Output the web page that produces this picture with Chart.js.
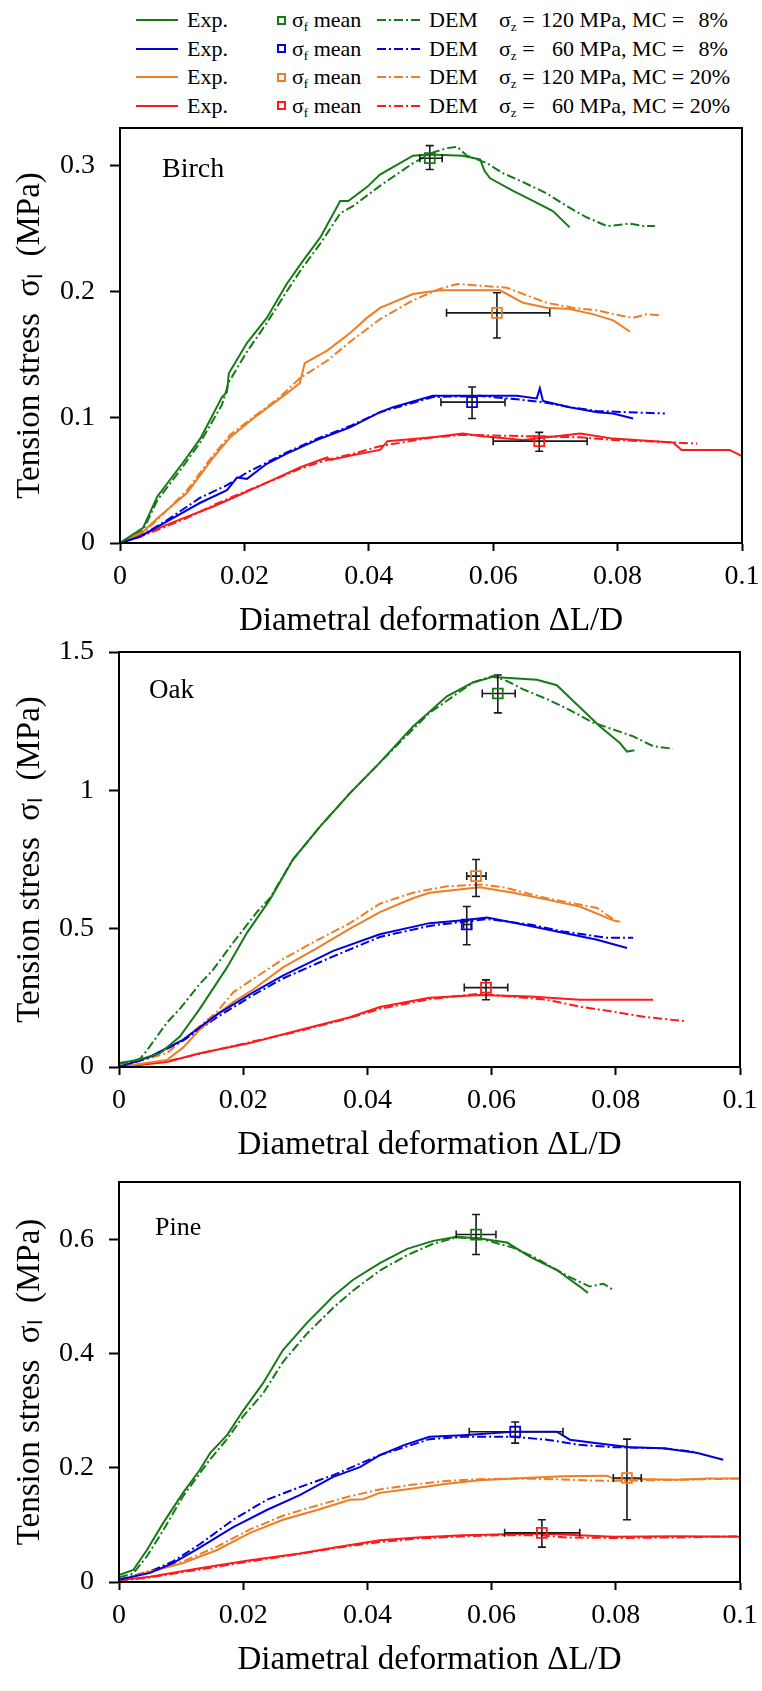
<!DOCTYPE html>
<html>
<head>
<meta charset="utf-8">
<script src="https://cdn.jsdelivr.net/npm/chart.js@4.4.0/dist/chart.umd.min.js"></script>
<style>
  body { margin: 0; background: #fff; width: 762px; height: 1691px; position: relative; overflow: hidden;
         font-family: 'Liberation Serif', 'Times New Roman', serif; color: #000; }
  canvas { position: absolute; left: 0; }
  .txt { position: absolute; white-space: nowrap; line-height: 22px; font-size: 22px; }
  .txt sub { font-size: 13px; vertical-align: -4px; line-height: 0; }
  .num { display: inline-block; text-align: right; }
  .mark { position: absolute; box-sizing: border-box; }
  .panelName { position: absolute; white-space: nowrap; }
</style>
</head>
<body>
<script>
// x ticks shared by all three panels
const xTicks = [0, 0.02, 0.04, 0.06, 0.08, 0.1];

// series order: σz=120 MC=8%, σz=60 MC=8%, σz=120 MC=20%, σz=60 MC=20%
const seriesColors = ['#167a16', '#0000e0', '#ee7d24', '#ff1a1a'];
const stressLabels = ['120', '60', '120', '60'];
const mcLabels = ['8%', '8%', '20%', '20%'];

// ---- Birch ----
const birchYTicks = [0, 0.1, 0.2, 0.3];
const birchYMax = 0.33;
const birchExp1 = [[0,0],[.0037,.012],[.006,.037],[.010,.063],[.0129,.083],[.0164,.116],[.0172,.120],[.0175,.135],[.0204,.159],[.0236,.179],[.0268,.206],[.0292,.223],[.0322,.243],[.0354,.272],[.0367,.272],[.0397,.283],[.0418,.293],[.0471,.308],[.0498,.309],[.0551,.308],[.0579,.305],[.0586,.296],[.0595,.290],[.0632,.280],[.0664,.272],[.0696,.264],[.0723,.251]];
const birchDem1 = [[0,0],[.0037,.01],[.006,.034],[.010,.06],[.0129,.08],[.0164,.11],[.0175,.128],[.0204,.152],[.0236,.175],[.0268,.2],[.0292,.218],[.0322,.238],[.0354,.262],[.0375,.268],[.0418,.284],[.0471,.302],[.050,.310],[.0526,.314],[.0542,.315],[.0558,.308],[.059,.302],[.0616,.294],[.0648,.287],[.0686,.278],[.0718,.268],[.075,.259],[.0783,.252],[.082,.254],[.0841,.252],[.086,.252]];
const birchExp2 = [[0,0],[.0032,.005],[.0075,.017],[.0129,.032],[.0172,.042],[.0188,.052],[.0204,.051],[.0236,.063],[.0268,.071],[.0317,.082],[.037,.092],[.0418,.104],[.0439,.108],[.0503,.117],[.0579,.117],[.0638,.117],[.067,.115],[.0675,.123],[.068,.113],[.0723,.108],[.0767,.104],[.0793,.103],[.0825,.099]];
const birchDem2 = [[0,0],[.0032,.005],[.0075,.018],[.0129,.036],[.0172,.046],[.0204,.056],[.0236,.064],[.0268,.072],[.0317,.083],[.037,.093],[.0418,.104],[.0503,.116],[.0579,.117],[.0643,.114],[.068,.112],[.0723,.108],[.0767,.105],[.0815,.104],[.0876,.103]];
const birchExp3 = [[0,0],[.0037,.009],[.0061,.020],[.0108,.040],[.015,.068],[.0177,.084],[.0214,.099],[.0268,.119],[.0289,.127],[.0297,.143],[.0333,.153],[.037,.167],[.0397,.179],[.0418,.187],[.0471,.198],[.0514,.201],[.0611,.201],[.0622,.198],[.0648,.191],[.0686,.187],[.0723,.186],[.076,.182],[.0793,.177],[.082,.168]];
const birchDem3 = [[0,0],[.0037,.008],[.0061,.019],[.0108,.042],[.015,.07],[.0177,.086],[.0214,.1],[.0257,.116],[.0289,.131],[.0333,.145],[.037,.16],[.0418,.178],[.0471,.193],[.0514,.202],[.0542,.206],[.0622,.203],[.0643,.199],[.0686,.191],[.0728,.187],[.0767,.185],[.0793,.182],[.0825,.179],[.0847,.182],[.0868,.181]];
const birchExp4 = [[0,0],[.0048,.009],[.0108,.021],[.015,.029],[.0182,.036],[.0236,.048],[.0289,.060],[.0333,.068],[.0338,.066],[.0375,.070],[.0418,.074],[.043,.081],[.0503,.084],[.0551,.087],[.0579,.085],[.0648,.082],[.074,.087],[.0793,.083],[.0889,.080],[.0903,.074],[.098,.074],[.1,.069]];
const birchDem4 = [[0,0],[.0048,.008],[.0108,.02],[.015,.03],[.0182,.037],[.0236,.048],[.0289,.059],[.0333,.066],[.0375,.071],[.0418,.077],[.0503,.084],[.0551,.086],[.0648,.085],[.074,.084],[.0793,.082],[.0889,.080],[.0928,.079]];
const birchMeanX = [.0498, .0566, .0606, .0674];
const birchMeanY = [.306, .112, .183, .081];
const birchErrX = [[.0482,.0518],[.0516,.0619],[.0525,.0691],[.060,.0751]];
const birchErrY = [[.297,.316],[.099,.124],[.163,.199],[.073,.088]];

// ---- Oak ----
const oakYTicks = [0, 0.5, 1, 1.5];
const oakYMax = 1.5;
const oakExp1 = [[0,.014],[.003,.025],[.0066,.05],[.0098,.11],[.013,.21],[.0174,.36],[.0206,.485],[.0243,.605],[.028,.75],[.0324,.87],[.0372,.99],[.042,1.10],[.0473,1.23],[.0528,1.34],[.057,1.39],[.0602,1.41],[.0635,1.405],[.0673,1.40],[.0705,1.38],[.0742,1.30],[.0775,1.23],[.0807,1.17],[.0818,1.14],[.083,1.145]];
const oakDem1 = [[0,.01],[.0034,.03],[.0045,.06],[.0077,.16],[.0098,.21],[.013,.30],[.0151,.35],[.0184,.45],[.0222,.56],[.0243,.61],[.028,.75],[.0324,.87],[.0372,.99],[.042,1.10],[.0473,1.22],[.05,1.28],[.057,1.39],[.0602,1.413],[.0625,1.395],[.065,1.366],[.0689,1.33],[.0726,1.29],[.0763,1.245],[.0796,1.22],[.0828,1.195],[.086,1.16],[.0892,1.15]];
const oakExp2 = [[0,0],[.005,.037],[.0103,.098],[.0158,.19],[.0216,.27],[.0264,.33],[.0345,.42],[.042,.48],[.05,.52],[.0554,.53],[.0593,.54],[.0662,.51],[.0715,.485],[.077,.46],[.0818,.43]];
const oakDem2 = [[0,0],[.005,.035],[.0103,.095],[.0158,.18],[.0216,.26],[.0264,.32],[.0345,.40],[.042,.47],[.05,.51],[.0554,.525],[.0593,.535],[.0662,.515],[.0715,.49],[.0786,.467],[.0828,.467]];
const oakExp3 = [[0,0],[.0077,.025],[.0103,.07],[.013,.135],[.0158,.19],[.0184,.235],[.0216,.28],[.0264,.36],[.0319,.43],[.0372,.50],[.042,.56],[.0473,.61],[.05,.63],[.0581,.65],[.0635,.63],[.0689,.605],[.0742,.58],[.0796,.53],[.0807,.525]];
const oakDem3 = [[0,0],[.0077,.05],[.011,.11],[.0158,.2],[.0184,.27],[.0264,.39],[.0312,.45],[.0372,.52],[.042,.59],[.0473,.63],[.0528,.653],[.0581,.66],[.0618,.65],[.0689,.61],[.077,.575],[.0802,.525]];
const oakExp4 = [[0,0],[.0077,.018],[.013,.05],[.0211,.087],[.0291,.134],[.0372,.18],[.042,.217],[.05,.25],[.0581,.26],[.0662,.255],[.0742,.243],[.0796,.243],[.086,.243]];
const oakDem4 = [[0,0],[.0077,.02],[.013,.048],[.0211,.09],[.0291,.13],[.0372,.178],[.042,.21],[.05,.245],[.0581,.265],[.0689,.243],[.0742,.218],[.0796,.2],[.085,.18],[.0914,.165]];
const oakMeanX = [.061, .056, .0575, .0591];
const oakMeanY = [1.35, .515, .69, .287];
const oakErrX = [[.0585,.0638],[.0555,.0567],[.056,.0591],[.0556,.0626]];
const oakErrY = [[1.28,1.417],[.442,.58],[.616,.75],[.243,.315]];

// ---- Pine ----
const pineYTicks = [0, 0.2, 0.4, 0.6];
const pineYMax = 0.7;
const pineExp1 = [[0,.012],[.0023,.021],[.0045,.056],[.0071,.103],[.0103,.156],[.013,.196],[.0147,.226],[.0174,.257],[.02,.30],[.0232,.348],[.0264,.406],[.0303,.454],[.0345,.50],[.0377,.529],[.042,.558],[.0464,.583],[.0506,.597],[.0544,.604],[.0581,.601],[.0625,.594],[.0662,.569],[.0705,.546],[.0742,.517],[.0755,.506]];
const pineDem1 = [[0,.008],[.0023,.015],[.0045,.045],[.0071,.09],[.0103,.15],[.013,.19],[.0147,.215],[.0174,.25],[.02,.29],[.0232,.33],[.0264,.385],[.0303,.435],[.0345,.48],[.0377,.51],[.042,.545],[.0464,.572],[.0506,.592],[.0544,.603],[.0581,.601],[.0635,.585],[.0673,.566],[.0721,.536],[.0758,.517],[.078,.522],[.0796,.511]];
const pineExp2 = [[0,.004],[.005,.016],[.0087,.033],[.013,.06],[.0184,.096],[.0238,.126],[.0291,.152],[.0345,.184],[.0388,.201],[.042,.222],[.046,.240],[.05,.254],[.0554,.257],[.0635,.263],[.0705,.263],[.0726,.249],[.077,.243],[.0823,.236],[.0876,.234],[.093,.226],[.0973,.214]];
const pineDem2 = [[0,.004],[.005,.018],[.0087,.036],[.013,.066],[.0184,.109],[.0238,.144],[.0291,.166],[.0345,.187],[.042,.222],[.05,.25],[.0554,.254],[.0635,.254],[.0689,.249],[.0742,.24],[.0796,.236],[.0876,.234],[.0925,.228]];
const pineExp3 = [[0,.003],[.005,.018],[.0103,.033],[.0158,.056],[.0211,.086],[.0264,.109],[.0319,.126],[.0372,.144],[.0393,.145],[.042,.156],[.047,.163],[.0528,.172],[.058,.178],[.0636,.181],[.0716,.185],[.0786,.186],[.0796,.181],[.085,.180],[.090,.179],[.095,.181],[.1,.181]];
const pineDem3 = [[0,.003],[.005,.02],[.0103,.036],[.0158,.062],[.0211,.092],[.0264,.116],[.0319,.134],[.0372,.150],[.042,.162],[.047,.170],[.053,.177],[.058,.18],[.064,.181],[.070,.180],[.075,.178],[.080,.177],[.085,.178],[.090,.179],[.095,.180],[.1,.181]];
const pineExp4 = [[0,.003],[.005,.009],[.013,.024],[.0211,.038],[.0291,.05],[.0345,.06],[.042,.073],[.048,.078],[.0554,.082],[.0678,.085],[.0796,.079],[.09,.080],[.1,.079]];
const pineDem4 = [[0,.002],[.005,.008],[.013,.022],[.0211,.036],[.0291,.049],[.0345,.059],[.042,.07],[.048,.076],[.0554,.08],[.062,.082],[.0678,.082],[.072,.078],[.08,.077],[.09,.078],[.1,.08]];
const pineMeanX = [.0575, .0638, .0818, .0681];
const pineMeanY = [.608, .263, .182, .086];
const pineErrX = [[.0543,.0607],[.0564,.0715],[.0796,.0841],[.0621,.0742]];
const pineErrY = [[.573,.643],[.243,.28],[.109,.25],[.061,.109]];

const serif = "'Liberation Serif', 'Times New Roman', serif";
Chart.defaults.font.family = serif;
Chart.defaults.color = '#000';

// legend (html, top of the page)
function addDiv(cls, left, top, html, css) {
  const d = document.createElement('div');
  d.className = cls;
  d.style.left = left + 'px';
  d.style.top = top + 'px';
  if (html) d.innerHTML = html;
  if (css) Object.assign(d.style, css);
  document.body.appendChild(d);
  return d;
}

seriesColors.forEach((c, i) => {
  const cy = 20 + i * 28.5;
  addDiv('mark', 136, cy - 1, '', { width: '42px', height: '2px', background: c });
  addDiv('txt', 187, cy - 11, 'Exp.');
  addDiv('mark', 277, cy - 4.5, '', { width: '9px', height: '9px', border: '2.2px solid ' + c });
  addDiv('txt', 292, cy - 11, 'σ<sub>f</sub> mean');
  addDiv('mark', 377, cy - 1, '', { width: '44px', height: '2px',
    background: `repeating-linear-gradient(to right, ${c} 0 9px, transparent 9px 12px, ${c} 12px 14px, transparent 14px 17px)` });
  addDiv('txt', 429, cy - 11, 'DEM');
  addDiv('txt', 499, cy - 11,
    `σ<sub>z</sub> = <span class="num" style="width:34px">${stressLabels[i]}</span> MPa, MC = <span class="num" style="width:38px">${mcLabels[i]}</span>`);
});

// plugins
const frame = {
  id: 'frame',
  afterDraw(chart) {
    const { ctx, chartArea: a } = chart;
    ctx.save();
    ctx.strokeStyle = '#000';
    ctx.lineWidth = 2;
    ctx.strokeRect(a.left, a.top, a.right - a.left, a.bottom - a.top);
    ctx.restore();
  }
};

const errorBars = {
  id: 'errorBars',
  beforeDatasetDraw(chart, args, opts) {
    if (args.index !== 0) return;
    const { ctx, scales: { x, y } } = chart;
    ctx.save();
    ctx.strokeStyle = '#1a1a1a';
    ctx.lineWidth = 1.6;
    opts.mx.forEach((mx, i) => {
      const px = x.getPixelForValue(mx), py = y.getPixelForValue(opts.my[i]);
      const xl = x.getPixelForValue(opts.ex[i][0]), xh = x.getPixelForValue(opts.ex[i][1]);
      const yl = y.getPixelForValue(opts.ey[i][0]), yh = y.getPixelForValue(opts.ey[i][1]);
      ctx.beginPath();
      ctx.moveTo(xl, py); ctx.lineTo(xh, py);
      ctx.moveTo(xl, py - 4); ctx.lineTo(xl, py + 4);
      ctx.moveTo(xh, py - 4); ctx.lineTo(xh, py + 4);
      ctx.moveTo(px, yl); ctx.lineTo(px, yh);
      ctx.moveTo(px - 4, yl); ctx.lineTo(px + 4, yl);
      ctx.moveTo(px - 4, yh); ctx.lineTo(px + 4, yh);
      ctx.stroke();
    });
    ctx.restore();
  }
};

const toXY = arr => arr.map(p => ({ x: p[0], y: p[1] }));

const panels = [
  { name: 'Birch', exp: [birchExp1, birchExp2, birchExp3, birchExp4], dem: [birchDem1, birchDem2, birchDem3, birchDem4],
    mx: birchMeanX, my: birchMeanY, ex: birchErrX, ey: birchErrY, yMax: birchYMax, yTicks: birchYTicks,
    top: 128, axis: 543, left: 120, right: 742, label: { x: 162, y: 154, size: 28 } },
  { name: 'Oak', exp: [oakExp1, oakExp2, oakExp3, oakExp4], dem: [oakDem1, oakDem2, oakDem3, oakDem4],
    mx: oakMeanX, my: oakMeanY, ex: oakErrX, ey: oakErrY, yMax: oakYMax, yTicks: oakYTicks,
    top: 652, axis: 1067, left: 119, right: 740, label: { x: 149, y: 676, size: 27 } },
  { name: 'Pine', exp: [pineExp1, pineExp2, pineExp3, pineExp4], dem: [pineDem1, pineDem2, pineDem3, pineDem4],
    mx: pineMeanX, my: pineMeanY, ex: pineErrX, ey: pineErrY, yMax: pineYMax, yTicks: pineYTicks,
    top: 1182, axis: 1582, left: 119, right: 740, label: { x: 155, y: 1214, size: 26 } }
];

panels.forEach(p => {
  const padTop = 20;
  const canvasTop = p.top - padTop;
  const canvas = document.createElement('canvas');
  canvas.width = 762;
  canvas.height = p.axis + 100 - canvasTop;
  canvas.style.top = canvasTop + 'px';
  document.body.appendChild(canvas);

  const datasets = [{
    data: p.mx.map((x, i) => ({ x, y: p.my[i] })),
    showLine: false,
    pointStyle: 'rect',
    pointRadius: 7,
    pointBorderWidth: 1.8,
    pointBorderColor: seriesColors,
    pointBackgroundColor: 'rgba(0,0,0,0)'
  }];
  p.exp.forEach((arr, i) => datasets.push({
    data: toXY(arr), showLine: true, pointRadius: 0, borderColor: seriesColors[i], borderWidth: 2
  }));
  p.dem.forEach((arr, i) => datasets.push({
    data: toXY(arr), showLine: true, pointRadius: 0, borderColor: seriesColors[i], borderWidth: 2,
    borderDash: [9, 3, 2, 3]
  }));

  new Chart(canvas.getContext('2d'), {
    type: 'scatter',
    data: { datasets },
    options: {
      responsive: false,
      animation: false,
      devicePixelRatio: 1,
      layout: { padding: { top: padTop, right: 762 - p.right, bottom: 0, left: 0 } },
      plugins: {
        legend: { display: false },
        tooltip: { enabled: false },
        errorBars: { mx: p.mx, my: p.my, ex: p.ex, ey: p.ey }
      },
      scales: {
        x: {
          type: 'linear', min: 0, max: 0.1,
          afterBuildTicks: s => { s.ticks = xTicks.map(v => ({ value: v })); },
          afterFit: s => { s.height = 100; s.paddingLeft = 0; s.paddingRight = 0; },
          ticks: { font: { family: serif, size: 28 }, color: '#000', padding: 9, maxRotation: 0, callback: v => String(v) },
          grid: { display: true, drawOnChartArea: false, drawTicks: true, tickLength: 8, tickWidth: 2, tickColor: '#000' },
          border: { display: true, color: '#000', width: 2 },
          title: { display: true, text: 'Diametral deformation ΔL/D', font: { family: serif, size: 33 }, color: '#000',
                   padding: { top: 0, bottom: 2 } }
        },
        y: {
          type: 'linear', min: 0, max: p.yMax,
          afterBuildTicks: s => { s.ticks = p.yTicks.map(v => ({ value: v })); },
          afterFit: s => { s.width = p.left; s.paddingTop = 0; s.paddingBottom = 0; },
          ticks: { font: { family: serif, size: 28 }, color: '#000', padding: 15, callback: v => String(v) },
          grid: { display: true, drawOnChartArea: false, drawTicks: true, tickLength: 10, tickWidth: 2, tickColor: '#000' },
          border: { display: true, color: '#000', width: 2 },
          title: { display: true, text: 'Tension stress  σₗ  (MPa)', font: { family: serif, size: 33 }, color: '#000',
                   padding: { top: 11, bottom: 0 } }
        }
      }
    },
    plugins: [frame, errorBars]
  });

  addDiv('panelName', p.label.x, p.label.y, p.name,
    { fontSize: p.label.size + 'px', lineHeight: p.label.size + 'px' });
});
</script>
</body>
</html>
